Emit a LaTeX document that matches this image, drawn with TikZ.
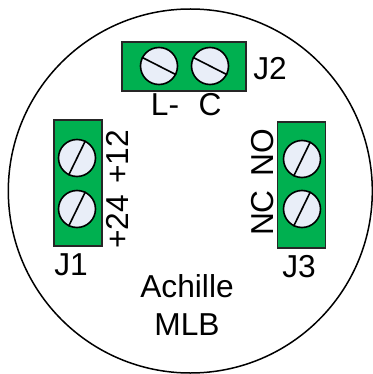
\documentclass[tikz,border=0pt]{standalone}
\usepackage{fontspec}
\setmainfont{Liberation Sans}
\usepackage{xcolor}
\usetikzlibrary{positioning}
\definecolor{blockgreen}{HTML}{00B050}
\definecolor{screwblue}{HTML}{E9EEF8}
\begin{document}
\begin{tikzpicture}[x=1pt, y=-1pt,
    housing/.style={draw, circle, line width=1.5pt, minimum size=364pt, inner sep=0},
    block/.style={draw=black!85, fill=blockgreen, line width=1.5pt, inner sep=0},
    hblock/.style={block, minimum width=124pt, minimum height=49pt},
    vblock/.style={block, minimum width=48pt, minimum height=126pt},
    screw/.style={draw, fill=screwblue, circle, line width=1.6pt, minimum size=37pt, inner sep=0},
    lbl/.style={font=\fontsize{31.7}{36}\selectfont, inner sep=0}]
  \useasboundingbox (0,0) rectangle (372,374);
  \node[housing] (body) at (190.3,191) {};

  \node[hblock] (j2) at (184,66.5) {};
  \node[vblock] (j1) at (78,183) {};
  \node[vblock] (j3) at (301.5,185) {};

  % screws
  \foreach \n/\x/\y in {a/159/66,b/210/66}
  {
    \node[screw] (s\n) at (\x,\y) {};
    \draw[line width=1.6pt] (s\n.153) -- (s\n.333);
  }
  \foreach \n/\x/\y in {c/77/158,d/77/209,e/302/159,f/302/209}
  {
    \node[screw] (s\n) at (\x,\y) {};
    \draw[line width=1.6pt] (s\n.244) -- (s\n.64);
  }

  % labels
  \node[lbl] (lj2) at (270,69) {J2};
  \node[lbl] (ll) at (165,105) {L-};
  \node[lbl] (lc) at (210,105) {C};
  \node[lbl] (lj1) at (71,265) {J1};
  \node[lbl, rotate=90] (lp12) at (117,157) {+12};
  \node[lbl, rotate=90] (lp24) at (117,222) {+24};
  \node[lbl] (lj3) at (299,267) {J3};
  \node[lbl, rotate=90] (lno) at (263,153) {NO};
  \node[lbl, rotate=90] (lnc) at (263,213) {NC};
  \node[lbl] (lach) at (187,286) {Achille};
  \node[lbl] (lmlb) at (187,325) {MLB};
\end{tikzpicture}
\end{document}
